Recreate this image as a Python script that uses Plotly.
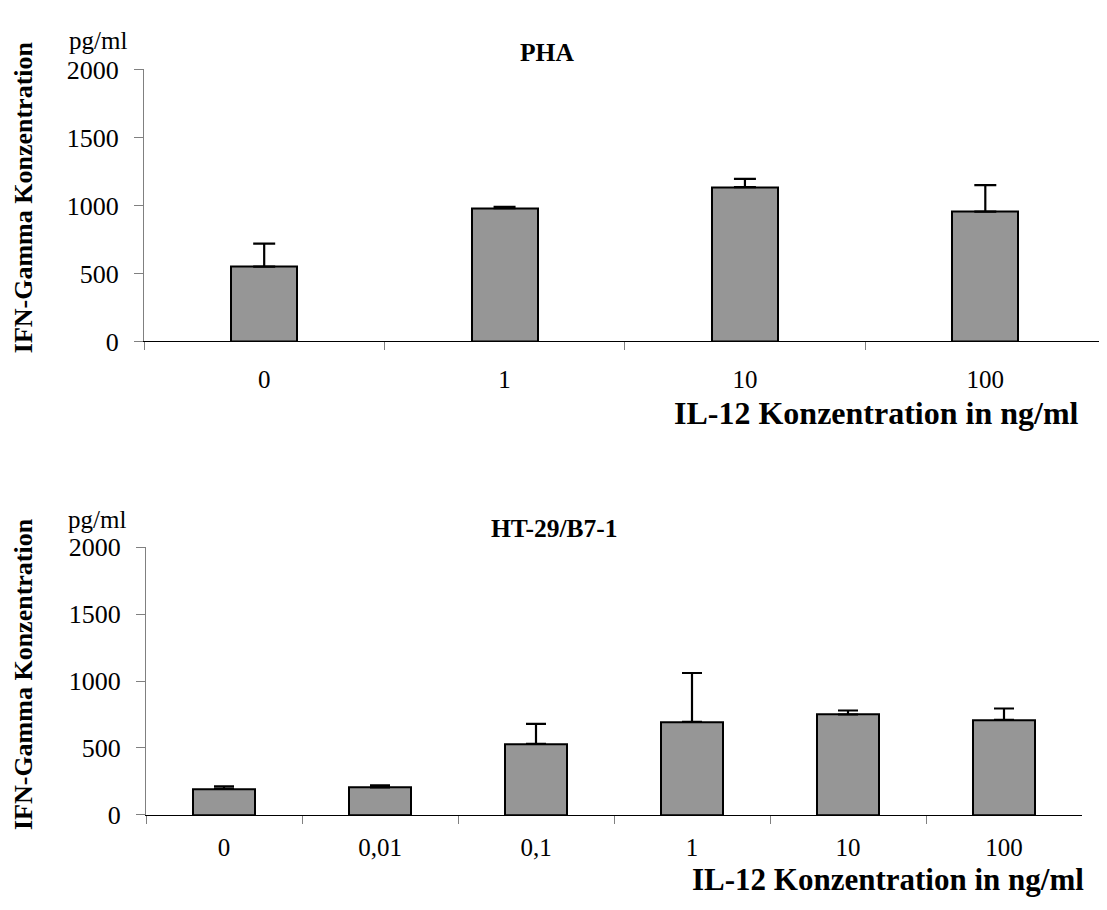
import plotly.graph_objects as go

# ---- data ----
pha_categories = ["0", "1", "10", "100"]
pha_values = [550, 980, 1135, 955]
pha_errors = [170, 10, 60, 195]

ht_categories = ["0", "0,01", "0,1", "1", "10", "100"]
ht_values = [195, 205, 530, 695, 750, 710]
ht_errors = [18, 15, 150, 365, 30, 85]

y_ticks = [0, 500, 1000, 1500, 2000]

FONT = "Liberation Serif"
W, H = 1107, 910
OFF = 8  # page body margin offset

def px(x):
    return (x - OFF) / W

def py(y):
    return 1 - (y - OFF) / H

fig = go.Figure()

bar_style = dict(marker=dict(color="#969696", line=dict(color="black", width=2)),
                 showlegend=False, hoverinfo="skip")

fig.add_trace(go.Bar(x=pha_categories, y=pha_values, width=0.275,
                     error_y=dict(type="data", array=pha_errors,
                                  arrayminus=[0] * len(pha_errors), symmetric=False,
                                  color="black", thickness=2.2, width=11),
                     xaxis="x", yaxis="y", **bar_style))
fig.add_trace(go.Bar(x=ht_categories, y=ht_values, width=0.40,
                     error_y=dict(type="data", array=ht_errors,
                                  arrayminus=[0] * len(ht_errors), symmetric=False,
                                  color="black", thickness=2.2, width=10),
                     xaxis="x2", yaxis="y2", **bar_style))

xcommon = dict(type="category", showline=True, linecolor="black", linewidth=1,
               ticks="outside", tickson="boundaries", ticklen=8, tickcolor="#808080",
               tickwidth=1, showgrid=False, zeroline=False,
               tickfont=dict(family=FONT, size=25, color="black"),
               fixedrange=True)
ycommon = dict(range=[0, 2000], tickvals=y_ticks, showline=True, linecolor="#808080",
               linewidth=1, ticks="outside", ticklen=9, tickcolor="#808080", tickwidth=1,
               showgrid=False, zeroline=False,
               tickfont=dict(family=FONT, size=26, color="black"),
               ticklabelstandoff=10, fixedrange=True)

fig.update_layout(
    width=W, height=H,
    margin=dict(l=0, r=0, t=0, b=0),
    paper_bgcolor="white", plot_bgcolor="white",
    bargap=0,
    xaxis=dict(domain=[px(144), px(1105.5)], anchor="y", ticklabelstandoff=16, **xcommon),
    yaxis=dict(domain=[py(338), py(57)], anchor="x", **ycommon),
    xaxis2=dict(domain=[px(146), px(1082)], anchor="y2", ticklabelstandoff=10, **xcommon),
    yaxis2=dict(domain=[py(827), py(550.5)], anchor="x2", **ycommon),
)

ann = []
def add_text(text, x, y, size, bold=False, xanchor="center", angle=0):
    t = f"<b>{text}</b>" if bold else text
    ann.append(dict(text=t, x=px(x), y=py(y), xref="paper", yref="paper",
                    xanchor=xanchor, yanchor="middle", showarrow=False,
                    textangle=angle, font=dict(family=FONT, size=size, color="black")))

# top panel
add_text("pg/ml", 98, 27, 25)
add_text("PHA", 547, 39.5, 25.5, bold=True)
add_text("IFN-Gamma Konzentration", 23, 189, 26, bold=True, angle=-90)
add_text("IL-12 Konzentration in ng/ml", 1081, 412, 32, bold=True, xanchor="right")
# bottom panel
add_text("pg/ml", 97, 521.5, 25)
add_text("HT-29/B7-1", 554, 531, 25.5, bold=True)
add_text("IFN-Gamma Konzentration", 23, 681.5, 26, bold=True, angle=-90)
add_text("IL-12 Konzentration in ng/ml", 1086, 894, 31, bold=True, xanchor="right")

fig.update_layout(annotations=ann)

fig.write_html("out.html")
